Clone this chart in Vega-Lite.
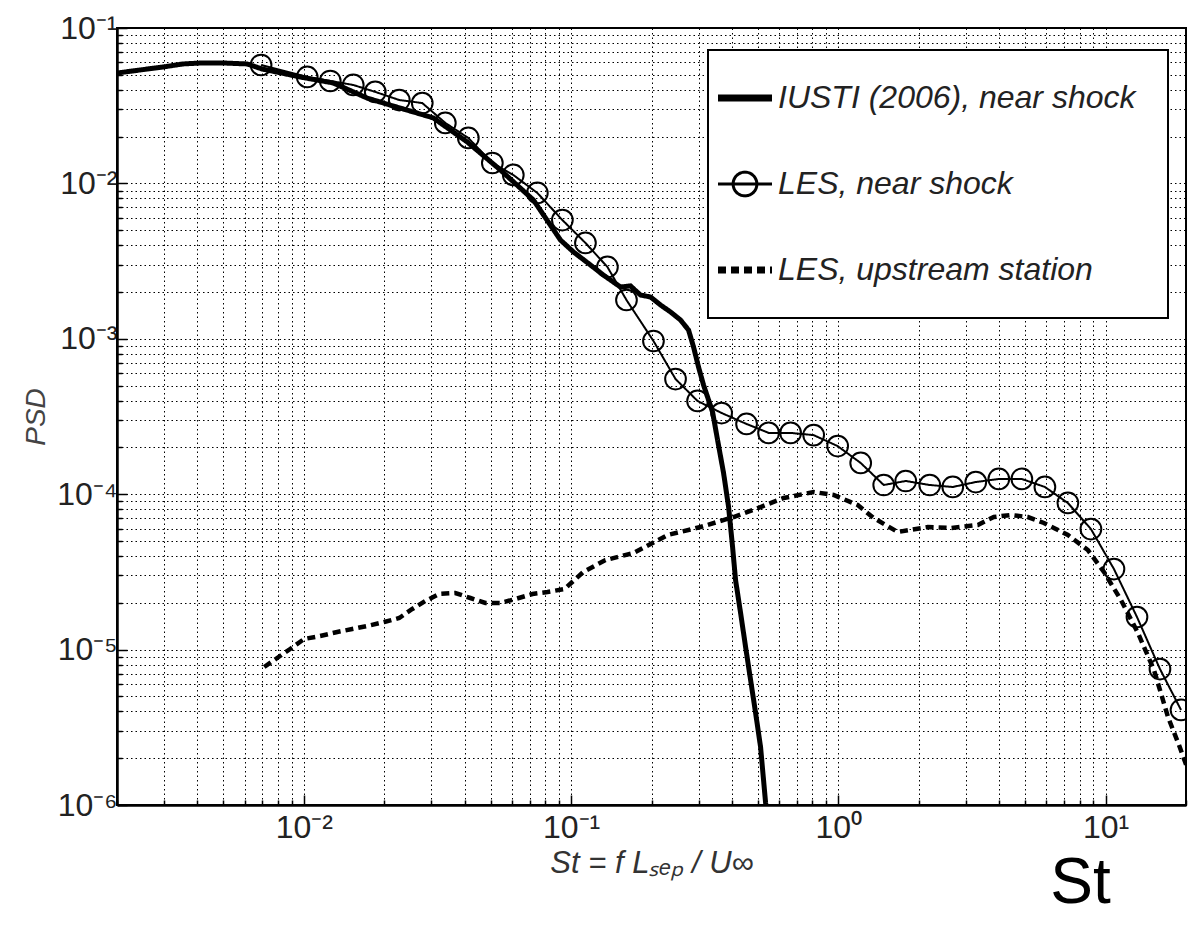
{
  "$schema": "https://vega.github.io/schema/vega-lite/v6.json",
  "width": 1069,
  "height": 777,
  "autosize": {"type": "none"},
  "padding": {"left": 117, "top": 28, "right": 2, "bottom": 133},
  "background": "white",
  "config": {
    "view": {"stroke": "black", "strokeWidth": 2},
    "font": "Liberation Sans"
  },
  "title": {
    "text": "St",
    "orient": "bottom",
    "anchor": "end",
    "fontSize": 64,
    "fontWeight": "normal",
    "font": "Liberation Sans",
    "color": "black",
    "dx": -76,
    "offset": -26
  },
  "datasets": {
    "psd": [
      {"series": "IUSTI (2006), near shock", "st": 0.002, "psd": 0.0513},
      {"series": "IUSTI (2006), near shock", "st": 0.00244, "psd": 0.0537},
      {"series": "IUSTI (2006), near shock", "st": 0.00297, "psd": 0.0561},
      {"series": "IUSTI (2006), near shock", "st": 0.00353, "psd": 0.0587},
      {"series": "IUSTI (2006), near shock", "st": 0.00409, "psd": 0.0595},
      {"series": "IUSTI (2006), near shock", "st": 0.00508, "psd": 0.0595},
      {"series": "IUSTI (2006), near shock", "st": 0.00614, "psd": 0.0587},
      {"series": "IUSTI (2006), near shock", "st": 0.00698, "psd": 0.0545},
      {"series": "IUSTI (2006), near shock", "st": 0.00969, "psd": 0.0484},
      {"series": "IUSTI (2006), near shock", "st": 0.01288, "psd": 0.0443},
      {"series": "IUSTI (2006), near shock", "st": 0.01727, "psd": 0.0354},
      {"series": "IUSTI (2006), near shock", "st": 0.02106, "psd": 0.0319},
      {"series": "IUSTI (2006), near shock", "st": 0.03051, "psd": 0.0264},
      {"series": "IUSTI (2006), near shock", "st": 0.0409, "psd": 0.01847},
      {"series": "IUSTI (2006), near shock", "st": 0.0544, "psd": 0.0122},
      {"series": "IUSTI (2006), near shock", "st": 0.0723, "psd": 0.00782},
      {"series": "IUSTI (2006), near shock", "st": 0.0913, "psd": 0.00432},
      {"series": "IUSTI (2006), near shock", "st": 0.1021, "psd": 0.00362},
      {"series": "IUSTI (2006), near shock", "st": 0.1182, "psd": 0.002985},
      {"series": "IUSTI (2006), near shock", "st": 0.1322, "psd": 0.00257},
      {"series": "IUSTI (2006), near shock", "st": 0.1531, "psd": 0.002154},
      {"series": "IUSTI (2006), near shock", "st": 0.1668, "psd": 0.00219},
      {"series": "IUSTI (2006), near shock", "st": 0.1819, "psd": 0.001913},
      {"series": "IUSTI (2006), near shock", "st": 0.1983, "psd": 0.001858},
      {"series": "IUSTI (2006), near shock", "st": 0.2162, "psd": 0.00165},
      {"series": "IUSTI (2006), near shock", "st": 0.2357, "psd": 0.001488},
      {"series": "IUSTI (2006), near shock", "st": 0.2568, "psd": 0.001321},
      {"series": "IUSTI (2006), near shock", "st": 0.2752, "psd": 0.001139},
      {"series": "IUSTI (2006), near shock", "st": 0.2873, "psd": 0.000886},
      {"series": "IUSTI (2006), near shock", "st": 0.2999, "psd": 0.000658},
      {"series": "IUSTI (2006), near shock", "st": 0.3132, "psd": 0.000504},
      {"series": "IUSTI (2006), near shock", "st": 0.327, "psd": 0.000404},
      {"series": "IUSTI (2006), near shock", "st": 0.3385, "psd": 0.000338},
      {"series": "IUSTI (2006), near shock", "st": 0.3534, "psd": 0.000223},
      {"series": "IUSTI (2006), near shock", "st": 0.3721, "psd": 0.0001369},
      {"series": "IUSTI (2006), near shock", "st": 0.3886, "psd": 0.0000827},
      {"series": "IUSTI (2006), near shock", "st": 0.4022, "psd": 0.0000457},
      {"series": "IUSTI (2006), near shock", "st": 0.4127, "psd": 0.000028},
      {"series": "IUSTI (2006), near shock", "st": 0.4309, "psd": 0.0000172},
      {"series": "IUSTI (2006), near shock", "st": 0.4499, "psd": 0.00001039},
      {"series": "IUSTI (2006), near shock", "st": 0.4697, "psd": 0.00000637},
      {"series": "IUSTI (2006), near shock", "st": 0.4904, "psd": 0.00000391},
      {"series": "IUSTI (2006), near shock", "st": 0.5119, "psd": 0.00000236},
      {"series": "IUSTI (2006), near shock", "st": 0.5346, "psd": 0.00000103},
      {"series": "IUSTI (2006), near shock", "st": 0.543, "psd": 0.00000086},

      {"series": "LES, near shock", "st": 0.00692, "psd": 0.0578},
      {"series": "LES, near shock", "st": 0.0103, "psd": 0.0484},
      {"series": "LES, near shock", "st": 0.01256, "psd": 0.0456},
      {"series": "LES, near shock", "st": 0.01531, "psd": 0.043},
      {"series": "LES, near shock", "st": 0.01851, "psd": 0.0388},
      {"series": "LES, near shock", "st": 0.02276, "psd": 0.0344},
      {"series": "LES, near shock", "st": 0.02775, "psd": 0.0329},
      {"series": "LES, near shock", "st": 0.03385, "psd": 0.0245},
      {"series": "LES, near shock", "st": 0.04127, "psd": 0.0196},
      {"series": "LES, near shock", "st": 0.05076, "psd": 0.01353},
      {"series": "LES, near shock", "st": 0.0608, "psd": 0.01133},
      {"series": "LES, near shock", "st": 0.0748, "psd": 0.00868},
      {"series": "LES, near shock", "st": 0.0928, "psd": 0.00581},
      {"series": "LES, near shock", "st": 0.1132, "psd": 0.00414},
      {"series": "LES, near shock", "st": 0.1368, "psd": 0.0029},
      {"series": "LES, near shock", "st": 0.1612, "psd": 0.001777},
      {"series": "LES, near shock", "st": 0.2034, "psd": 0.000968},
      {"series": "LES, near shock", "st": 0.246, "psd": 0.000551},
      {"series": "LES, near shock", "st": 0.2974, "psd": 0.000398},
      {"series": "LES, near shock", "st": 0.3659, "psd": 0.000333},
      {"series": "LES, near shock", "st": 0.4537, "psd": 0.000283},
      {"series": "LES, near shock", "st": 0.5484, "psd": 0.000248},
      {"series": "LES, near shock", "st": 0.663, "psd": 0.000248},
      {"series": "LES, near shock", "st": 0.8087, "psd": 0.00024},
      {"series": "LES, near shock", "st": 0.9945, "psd": 0.000204},
      {"series": "LES, near shock", "st": 1.213, "psd": 0.0001588},
      {"series": "LES, near shock", "st": 1.479, "psd": 0.0001146},
      {"series": "LES, near shock", "st": 1.788, "psd": 0.0001216},
      {"series": "LES, near shock", "st": 2.199, "psd": 0.0001146},
      {"series": "LES, near shock", "st": 2.681, "psd": 0.0001113},
      {"series": "LES, near shock", "st": 3.27, "psd": 0.0001198},
      {"series": "LES, near shock", "st": 3.987, "psd": 0.0001253},
      {"series": "LES, near shock", "st": 4.862, "psd": 0.0001253},
      {"series": "LES, near shock", "st": 5.93, "psd": 0.0001113},
      {"series": "LES, near shock", "st": 7.229, "psd": 0.0000878},
      {"series": "LES, near shock", "st": 8.815, "psd": 0.0000597},
      {"series": "LES, near shock", "st": 10.75, "psd": 0.000033},
      {"series": "LES, near shock", "st": 13.11, "psd": 0.00001621},
      {"series": "LES, near shock", "st": 15.98, "psd": 0.0000075},
      {"series": "LES, near shock", "st": 19.16, "psd": 0.00000409},

      {"series": "LES, upstream station", "st": 0.00711, "psd": 0.00000773},
      {"series": "LES, upstream station", "st": 0.00795, "psd": 0.00000883},
      {"series": "LES, upstream station", "st": 0.00889, "psd": 0.00001009},
      {"series": "LES, upstream station", "st": 0.01003, "psd": 0.0000117},
      {"series": "LES, upstream station", "st": 0.01151, "psd": 0.00001223},
      {"series": "LES, upstream station", "st": 0.01334, "psd": 0.00001298},
      {"series": "LES, upstream station", "st": 0.01518, "psd": 0.00001357},
      {"series": "LES, upstream station", "st": 0.01727, "psd": 0.00001419},
      {"series": "LES, upstream station", "st": 0.02, "psd": 0.00001505},
      {"series": "LES, upstream station", "st": 0.02276, "psd": 0.00001597},
      {"series": "LES, upstream station", "st": 0.02546, "psd": 0.00001825},
      {"series": "LES, upstream station", "st": 0.02849, "psd": 0.00002055},
      {"series": "LES, upstream station", "st": 0.03214, "psd": 0.0000228},
      {"series": "LES, upstream station", "st": 0.03689, "psd": 0.00002313},
      {"series": "LES, upstream station", "st": 0.042, "psd": 0.00002148},
      {"series": "LES, upstream station", "st": 0.0478, "psd": 0.00001995},
      {"series": "LES, upstream station", "st": 0.0544, "psd": 0.00001995},
      {"series": "LES, upstream station", "st": 0.0619, "psd": 0.00002116},
      {"series": "LES, upstream station", "st": 0.0717, "psd": 0.0000228},
      {"series": "LES, upstream station", "st": 0.0816, "psd": 0.00002348},
      {"series": "LES, upstream station", "st": 0.0945, "psd": 0.00002455},
      {"series": "LES, upstream station", "st": 0.1112, "psd": 0.0000316},
      {"series": "LES, upstream station", "st": 0.1345, "psd": 0.0000377},
      {"series": "LES, upstream station", "st": 0.1713, "psd": 0.0000418},
      {"series": "LES, upstream station", "st": 0.2296, "psd": 0.0000546},
      {"series": "LES, upstream station", "st": 0.3051, "psd": 0.0000615},
      {"series": "LES, upstream station", "st": 0.4056, "psd": 0.0000713},
      {"series": "LES, upstream station", "st": 0.5119, "psd": 0.0000827},
      {"series": "LES, upstream station", "st": 0.6245, "psd": 0.0000945},
      {"series": "LES, upstream station", "st": 0.8087, "psd": 0.0001033},
      {"series": "LES, upstream station", "st": 0.9607, "psd": 0.0000988},
      {"series": "LES, upstream station", "st": 1.182, "psd": 0.0000852},
      {"series": "LES, upstream station", "st": 1.357, "psd": 0.0000703},
      {"series": "LES, upstream station", "st": 1.669, "psd": 0.0000571},
      {"series": "LES, upstream station", "st": 2.161, "psd": 0.0000615},
      {"series": "LES, upstream station", "st": 2.636, "psd": 0.0000606},
      {"series": "LES, upstream station", "st": 3.327, "psd": 0.0000634},
      {"series": "LES, upstream station", "st": 3.818, "psd": 0.0000713},
      {"series": "LES, upstream station", "st": 4.422, "psd": 0.0000735},
      {"series": "LES, upstream station", "st": 5.12, "psd": 0.0000713},
      {"series": "LES, upstream station", "st": 5.88, "psd": 0.0000653},
      {"series": "LES, upstream station", "st": 7.229, "psd": 0.0000546},
      {"series": "LES, upstream station", "st": 8.59, "psd": 0.0000437},
      {"series": "LES, upstream station", "st": 9.86, "psd": 0.0000316},
      {"series": "LES, upstream station", "st": 11.42, "psd": 0.00002085},
      {"series": "LES, upstream station", "st": 13.22, "psd": 0.00001279},
      {"series": "LES, upstream station", "st": 15.18, "psd": 0.00000739},
      {"series": "LES, upstream station", "st": 17.13, "psd": 0.00000368},
      {"series": "LES, upstream station", "st": 18.83, "psd": 0.00000243},
      {"series": "LES, upstream station", "st": 20.35, "psd": 0.00000168}
    ]
  },
  "data": {"name": "psd"},
  "encoding": {
    "x": {
      "field": "st",
      "type": "quantitative",
      "scale": {"type": "log", "domain": [0.002, 20], "nice": false},
      "axis": {
        "values": [0.002, 0.003, 0.004, 0.005, 0.006, 0.007, 0.008, 0.009, 0.01, 0.02, 0.03, 0.04, 0.05, 0.06, 0.07, 0.08, 0.09, 0.1, 0.2, 0.3, 0.4, 0.5, 0.6, 0.7, 0.8, 0.9, 1, 2, 3, 4, 5, 6, 7, 8, 9, 10, 20],
        "labelExpr": "datum.value == 0.01 ? '10⁻²' : datum.value == 0.1 ? '10⁻¹' : datum.value == 1 ? '10⁰' : datum.value == 10 ? '10¹' : ''",
        "grid": true,
        "gridColor": "black",
        "gridDash": [1.5, 3],
        "gridOpacity": 1,
        "gridWidth": 1,
        "ticks": true,
        "tickColor": "black",
        "tickWidth": 1.5,
        "tickSize": {"condition": {"test": "datum.value == 0.01 || datum.value == 0.1 || datum.value == 1 || datum.value == 10", "value": -10}, "value": -5},
        "domain": true,
        "domainColor": "black",
        "domainWidth": 2.5,
        "labelFont": "Liberation Sans",
        "labelFontSize": 32,
        "labelColor": "#222222",
        "labelPadding": 17,
        "labelFlush": false,
        "labelOverlap": false,
        "title": "St = f Lₛₑₚ / U∞",
        "titleFont": "Liberation Sans",
        "titleFontSize": 31,
        "titleFontStyle": "italic",
        "titleFontWeight": "normal",
        "titleColor": "#333333",
        "titlePadding": 0
      }
    },
    "y": {
      "field": "psd",
      "type": "quantitative",
      "scale": {"type": "log", "domain": [0.000001, 0.1], "nice": false},
      "axis": {
        "values": [0.000001, 0.000002, 0.000003, 0.000004, 0.000005, 0.000006, 0.000007, 0.000008, 0.000009, 0.00001, 0.00002, 0.00003, 0.00004, 0.00005, 0.00006, 0.00007, 0.00008, 0.00009, 0.0001, 0.0002, 0.0003, 0.0004, 0.0005, 0.0006, 0.0007, 0.0008, 0.0009, 0.001, 0.002, 0.003, 0.004, 0.005, 0.006, 0.007, 0.008, 0.009, 0.01, 0.02, 0.03, 0.04, 0.05, 0.06, 0.07, 0.08, 0.09, 0.1],
        "labelExpr": "datum.value == 0.000001 ? '10⁻⁶' : datum.value == 0.00001 ? '10⁻⁵' : datum.value == 0.0001 ? '10⁻⁴' : datum.value == 0.001 ? '10⁻³' : datum.value == 0.01 ? '10⁻²' : datum.value == 0.1 ? '10⁻¹' : ''",
        "grid": true,
        "gridColor": "black",
        "gridDash": [1.5, 3],
        "gridOpacity": 1,
        "gridWidth": 1,
        "ticks": true,
        "tickColor": "black",
        "tickWidth": 1.5,
        "tickSize": {"condition": {"test": "datum.value == 0.000001 || datum.value == 0.00001 || datum.value == 0.0001 || datum.value == 0.001 || datum.value == 0.01 || datum.value == 0.1", "value": -10}, "value": -5},
        "domain": true,
        "domainColor": "black",
        "domainWidth": 2.5,
        "labelFont": "Liberation Sans",
        "labelFontSize": 32,
        "labelColor": "#222222",
        "labelPadding": 10,
        "labelFlush": false,
        "labelOverlap": false,
        "title": "PSD",
        "titleFont": "Liberation Sans",
        "titleFontSize": 28,
        "titleFontStyle": "italic",
        "titleFontWeight": "normal",
        "titleColor": "#444444",
        "titlePadding": 6
      }
    }
  },
  "layer": [
    {
      "transform": [{"filter": "datum.series === 'LES, upstream station'"}],
      "mark": {"type": "line", "clip": true, "color": "black", "strokeWidth": 4.5},
      "encoding": {
        "strokeDash": {
          "field": "series",
          "type": "nominal",
          "scale": {
            "domain": ["IUSTI (2006), near shock", "LES, near shock", "LES, upstream station"],
            "range": [[1, 0], [1, 0], [8, 5]]
          },
          "legend": {
            "title": null,
            "orient": "none",
            "legendX": 591,
            "legendY": 22,
            "direction": "vertical",
            "fillColor": "white",
            "strokeColor": "black",
            "padding": 32,
            "rowPadding": 52,
            "symbolSize": 2916,
            "symbolOffset": -11,
            "labelOffset": 17,
            "labelFont": "Liberation Sans",
            "labelFontSize": 32,
            "labelFontStyle": "italic",
            "labelColor": "#222222",
            "labelLimit": 0,
            "symbolStrokeColor": "black",
            "encode": {
              "legend": {"update": {"strokeWidth": {"value": 2}}},
              "symbols": {
                "update": {
                  "shape": {"signal": "datum.value === 'LES, near shock' ? 'M-1,0H1M-0.44,0A0.44,0.44,0,1,1,0.44,0A0.44,0.44,0,1,1,-0.44,0' : 'M-1,0H1'"},
                  "strokeWidth": {"signal": "datum.value === 'LES, near shock' ? 3 : 7"},
                  "strokeDash": {"signal": "datum.value === 'LES, upstream station' ? [8, 7] : [1, 0]"},
                  "fill": {"value": "transparent"},
                  "stroke": {"value": "black"},
                  "opacity": {"value": 1}
                }
              }
            }
          }
        }
      }
    },
    {
      "transform": [{"filter": "datum.series === 'LES, near shock'"}],
      "mark": {"type": "line", "clip": true, "color": "black", "strokeWidth": 2},
      "encoding": {
        "strokeDash": {"field": "series", "type": "nominal"}
      }
    },
    {
      "transform": [{"filter": "datum.series === 'IUSTI (2006), near shock'"}],
      "mark": {"type": "line", "clip": true, "color": "black", "strokeWidth": 5},
      "encoding": {
        "strokeDash": {"field": "series", "type": "nominal"}
      }
    },
    {
      "transform": [{"filter": "datum.series === 'LES, near shock'"}],
      "mark": {"type": "point", "shape": "circle", "filled": false, "size": 430, "strokeWidth": 2, "color": "black", "opacity": 1, "clip": true},
      "encoding": {}
    }
  ]
}
